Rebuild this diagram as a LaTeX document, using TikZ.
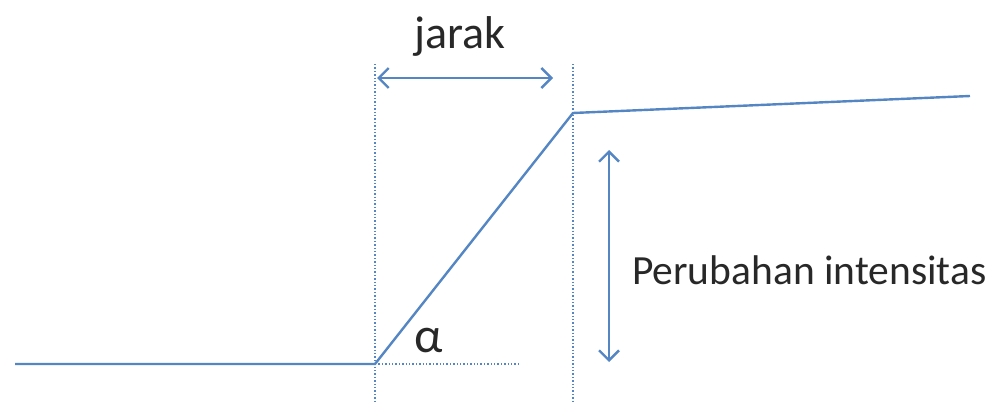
\documentclass[tikz,border=0pt]{standalone}
\usepackage{fontspec}
\setmainfont{Carlito}
\usepackage{tikz}
\usetikzlibrary{arrows.meta}
\definecolor{edgeblue}{RGB}{84,134,196}
\definecolor{labelgrey}{RGB}{40,40,40}
\tikzset{
  edge/.style={edgeblue, line width=2.4pt},
  guide/.style={edgeblue, line width=1.4pt, dotted},
  dimarrow/.style={edgeblue, line width=2.4pt, {Straight Barb[length=10pt,width=20pt]}-{Straight Barb[length=10pt,width=20pt]}},
  lbl/.style={text=labelgrey, inner sep=0pt}
}
\begin{document}
\begin{tikzpicture}[x=1pt,y=-1pt]
        \useasboundingbox (0,0) rectangle (997,404);
        \coordinate (start) at (15,364);
        \coordinate (foot) at (375,364);
        \coordinate (knee) at (573,113);
        \coordinate (finish) at (970,96);
        \draw[edge] (start) -- (foot) -- (knee) -- (finish);
        \draw[guide] (375,64) -- (375,404);
        \draw[guide] (573,64) -- (573,404);
        \draw[guide] (foot) -- (520,364);
        \node[lbl, font=\fontsize{50}{56}\selectfont] (alpha) at (429,341) {α};
        \coordinate (jl) at (377,78);
        \coordinate (jr) at (553,78);
        \draw[dimarrow] (jl) -- (jr);
        \node[lbl, font=\fontsize{46}{52}\selectfont] (jarak) at (460,36) {jarak};
        \coordinate (it) at (609,150);
        \coordinate (ib) at (609,362);
        \draw[dimarrow] (it) -- (ib);
        \node[lbl, anchor=west, font=\fontsize{41.5}{48}\selectfont] (intens) at (632,270) {Perubahan intensitas};
    \end{tikzpicture}
\end{document}
